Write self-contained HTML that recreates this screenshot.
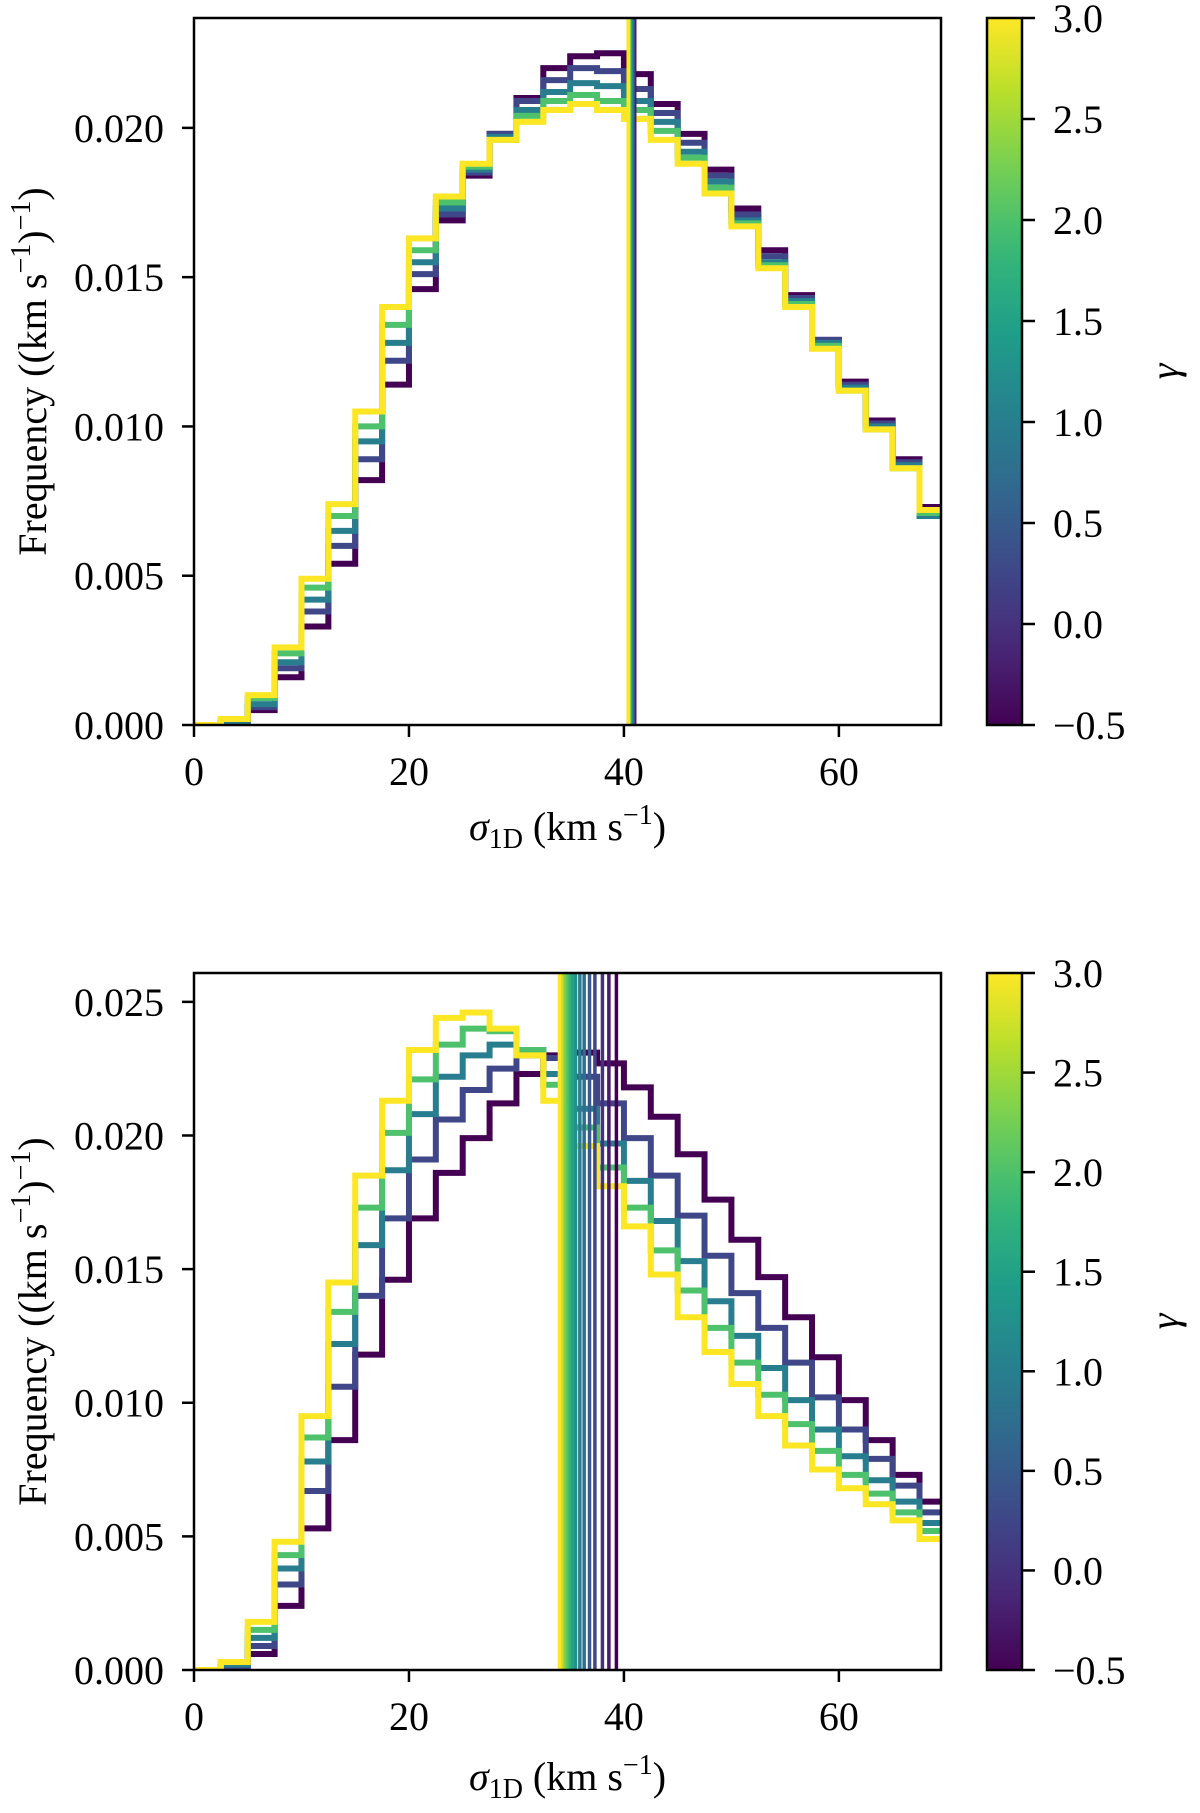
<!DOCTYPE html>
<html><head><meta charset="utf-8"><style>
html,body{margin:0;padding:0;background:#fff;}
svg{display:block;}
text{font-family:"Liberation Serif","DejaVu Serif",serif;fill:#000;}
</style></head><body>
<svg id="fig" width="1200" height="1813" viewBox="0 0 1200 1813" xmlns="http://www.w3.org/2000/svg"></svg>
<script>
// ---- data (frequency values in units of 1e-3, bins of 2.5 km/s) ----
const binEdgesStart = 0;
const binWidth = 2.5;
const gammaCurves = [-0.5, 0.25, 1.0, 2.0, 3.0];
const topG_m05 = [0.0,0.0,0.5,1.6,3.3,5.4,8.2,11.4,14.6,16.9,18.4,19.8,21.0,22.0,22.4,22.5,21.8,20.8,19.8,18.6,17.3,15.9,14.4,12.9,11.5,10.2,8.9,7.3];
const topG_025 = [0.0,0.1,0.6,1.9,3.8,6.0,8.9,12.2,15.1,17.1,18.5,19.8,20.9,21.6,22.0,21.9,21.3,20.5,19.5,18.4,17.1,15.7,14.3,12.9,11.4,10.1,8.8,7.1];
const topG_10 = [0.0,0.1,0.7,2.1,4.2,6.5,9.5,12.8,15.5,17.3,18.6,19.7,20.6,21.2,21.5,21.4,20.9,20.2,19.2,18.2,16.9,15.5,14.2,12.8,11.3,10.0,8.7,7.0];
const topG_20 = [0.0,0.2,0.9,2.4,4.6,7.0,10.0,13.4,15.9,17.5,18.7,19.6,20.4,20.9,21.1,20.9,20.6,19.9,19.0,18.0,16.8,15.4,14.1,12.7,11.2,9.9,8.6,7.1];
const topG_30 = [0.0,0.2,1.0,2.6,4.9,7.4,10.5,14.0,16.3,17.7,18.8,19.6,20.2,20.6,20.8,20.6,20.3,19.6,18.8,17.8,16.7,15.3,14.0,12.6,11.2,9.9,8.6,7.2];
const botG_m05 = [0.0,0.0,0.6,2.4,5.3,8.6,11.8,14.6,16.9,18.6,19.9,21.2,22.3,23.0,23.1,22.7,21.8,20.7,19.3,17.6,16.1,14.7,13.2,11.7,10.1,8.6,7.3,6.3];
const botG_025 = [0.0,0.1,0.9,3.2,6.7,10.6,14.0,16.9,19.1,20.6,21.7,22.5,23.0,22.9,22.2,21.2,19.9,18.5,17.0,15.5,14.1,12.8,11.5,10.2,9.0,7.9,6.9,5.9];
const botG_10 = [0.0,0.2,1.2,3.8,7.8,12.2,15.9,18.7,20.8,22.2,23.0,23.4,23.2,22.3,21.0,19.7,18.3,16.8,15.3,13.8,12.5,11.3,10.1,9.0,8.0,7.1,6.3,5.5];
const botG_20 = [0.0,0.3,1.5,4.3,8.7,13.4,17.3,20.1,22.1,23.4,24.0,23.9,23.2,21.9,20.3,18.8,17.3,15.7,14.2,12.8,11.5,10.3,9.2,8.2,7.3,6.6,5.9,5.2];
const botG_30 = [0.0,0.3,1.8,4.8,9.5,14.5,18.5,21.3,23.2,24.4,24.6,24.0,23.0,21.3,19.6,18.1,16.6,14.8,13.2,11.9,10.7,9.5,8.4,7.5,6.8,6.2,5.6,4.9];
const gammaLines = [-0.5,-0.25,0,0.25,0.5,0.75,1.0,1.25,1.5,1.75,2.0,2.25,2.5,2.75,3.0];
const topMeans = [41.0,40.95,40.9,40.85,40.8,40.75,40.7,40.65,40.6,40.55,40.5,40.5,40.45,40.4,40.4];
const botMeans = [39.3,38.6,38.0,37.3,36.8,36.3,35.9,35.5,35.2,34.9,34.7,34.5,34.3,34.15,34.0];
const xTicks = [0,20,40,60];
const topYTicks = [0,0.005,0.010,0.015,0.020];
const botYTicks = [0,0.005,0.010,0.015,0.020,0.025];
const cbTicks = [-0.5,0.0,0.5,1.0,1.5,2.0,2.5,3.0];

const NS='http://www.w3.org/2000/svg';
const svg=document.getElementById('fig');
function mk(tag,attrs,parent){const e=document.createElementNS(NS,tag);for(const k in attrs)e.setAttribute(k,attrs[k]);(parent||svg).appendChild(e);return e;}
const VIR=[[68,1,84],[72,40,120],[62,73,137],[49,104,142],[38,130,142],[31,158,137],[53,183,121],[110,206,88],[181,222,43],[253,231,37]];
function viridis(t){t=Math.max(0,Math.min(1,t));const p=t*(VIR.length-1);const i=Math.min(VIR.length-2,Math.floor(p));const f=p-i;const c=VIR[i].map((v,k)=>Math.round(v+(VIR[i+1][k]-v)*f));return 'rgb('+c.join(',')+')';}
const gmin=-0.5,gmax=3.0;
function gcol(g){return viridis((g-gmin)/(gmax-gmin));}

function panel(cfg){
  const {x0,x1,y0,y1,xmax,ymax,curves,means,yTicks,name,xlabY}=cfg;
  const g=mk('g',{});
  
  
  const X=v=>x0+(x1-x0)*v/xmax;
  const Y=v=>y1-(y1-y0)*v/ymax;
  const clipId=name+'-clip';
  const cp=mk('clipPath',{id:clipId},g);mk('rect',{x:x0,y:y0,width:x1-x0,height:y1-y0},cp);
  const plot=mk('g',{'clip-path':'url(#'+clipId+')'},g);
  curves.forEach((vals,ci)=>{
    let d='M'+X(binEdgesStart)+','+Y(0);
    vals.forEach((v,i)=>{const a=binEdgesStart+i*binWidth,b=a+binWidth;const yy=Y(v/1000);d+=' L'+X(a)+','+yy+' L'+X(b)+','+yy;});
    const p=mk('path',{d:d,fill:'none',stroke:gcol(gammaCurves[ci]),'stroke-width':6,'stroke-linejoin':'miter'},plot);
    
    
  });
  means.forEach((m,i)=>{
    const l=mk('line',{x1:X(m),x2:X(m),y1:y0,y2:y1,stroke:gcol(gammaLines[i]),'stroke-width':3.5},plot);
    
    
  });
  const fr=mk('rect',{x:x0,y:y0,width:x1-x0,height:y1-y0,fill:'none',stroke:'#000','stroke-width':2.5},g);
  
  
  xTicks.forEach(t=>{
    mk('line',{x1:X(t),x2:X(t),y1:y1,y2:y1+12,stroke:'#000','stroke-width':2.5},g);
    const tx=mk('text',{x:X(t),y:y1+60,'font-size':40,'text-anchor':'middle'},g);tx.textContent=String(t);
    
    
  });
  yTicks.forEach(t=>{
    mk('line',{x1:x0-12,x2:x0,y1:Y(t),y2:Y(t),stroke:'#000','stroke-width':2.5},g);
    const tx=mk('text',{x:x0-30,y:Y(t)+14,'font-size':40,'text-anchor':'end'},g);tx.textContent=t.toFixed(3);
    
    
  });
  const yl=mk('text',{x:0,y:0,'font-size':40,'text-anchor':'middle',transform:'translate(46,'+((y0+y1)/2)+') rotate(-90)'},g);
  yl.innerHTML='Frequency ((km s<tspan dy="-16" font-size="28">−1</tspan><tspan dy="16">)</tspan><tspan dy="-16" font-size="28">−1</tspan><tspan dy="16">)</tspan>';
  
  
  const xl=mk('text',{x:(x0+x1)/2,y:xlabY,'font-size':40,'text-anchor':'middle'},g);
  xl.innerHTML='<tspan font-style="italic">σ</tspan><tspan dy="8" font-size="28">1D</tspan><tspan dy="-8"> (km s</tspan><tspan dy="-16" font-size="28">−1</tspan><tspan dy="16">)</tspan>';
  
  
  const cx0=987,cx1=1022;
  const cb=mk('g',{},g);
  
  
  const gid=name+'-grad';
  const lg=mk('linearGradient',{id:gid,x1:0,y1:1,x2:0,y2:0},cb);
  for(let i=0;i<=20;i++){mk('stop',{offset:i/20,'stop-color':viridis(i/20)},lg);}
  mk('rect',{x:cx0,y:y0,width:cx1-cx0,height:y1-y0,fill:'url(#'+gid+')',stroke:'#000','stroke-width':2.5},cb);
  const CY=v=>y1-(y1-y0)*(v-gmin)/(gmax-gmin);
  cbTicks.forEach(t=>{
    mk('line',{x1:cx1,x2:cx1+13,y1:CY(t),y2:CY(t),stroke:'#000','stroke-width':2.5},cb);
    const tx=mk('text',{x:cx1+31,y:CY(t)+14,'font-size':40},cb);tx.textContent=(t<0?'−':'')+Math.abs(t).toFixed(1);
    
    
  });
  const gl=mk('text',{x:0,y:0,'font-size':40,'font-style':'italic','text-anchor':'middle',transform:'translate(1178,'+((y0+y1)/2)+') rotate(-90)'},cb);
  gl.textContent='γ';
  
  
}
panel({name:'top-panel',x0:194,x1:941,y0:18,y1:725,xmax:69.5,ymax:0.02368,curves:[topG_m05,topG_025,topG_10,topG_20,topG_30],means:topMeans,yTicks:topYTicks,xlabY:840});
panel({name:'bottom-panel',x0:194,x1:941,y0:973,y1:1670,xmax:69.5,ymax:0.02608,curves:[botG_m05,botG_025,botG_10,botG_20,botG_30],means:botMeans,yTicks:botYTicks,xlabY:1790});
</script>
</body></html>
